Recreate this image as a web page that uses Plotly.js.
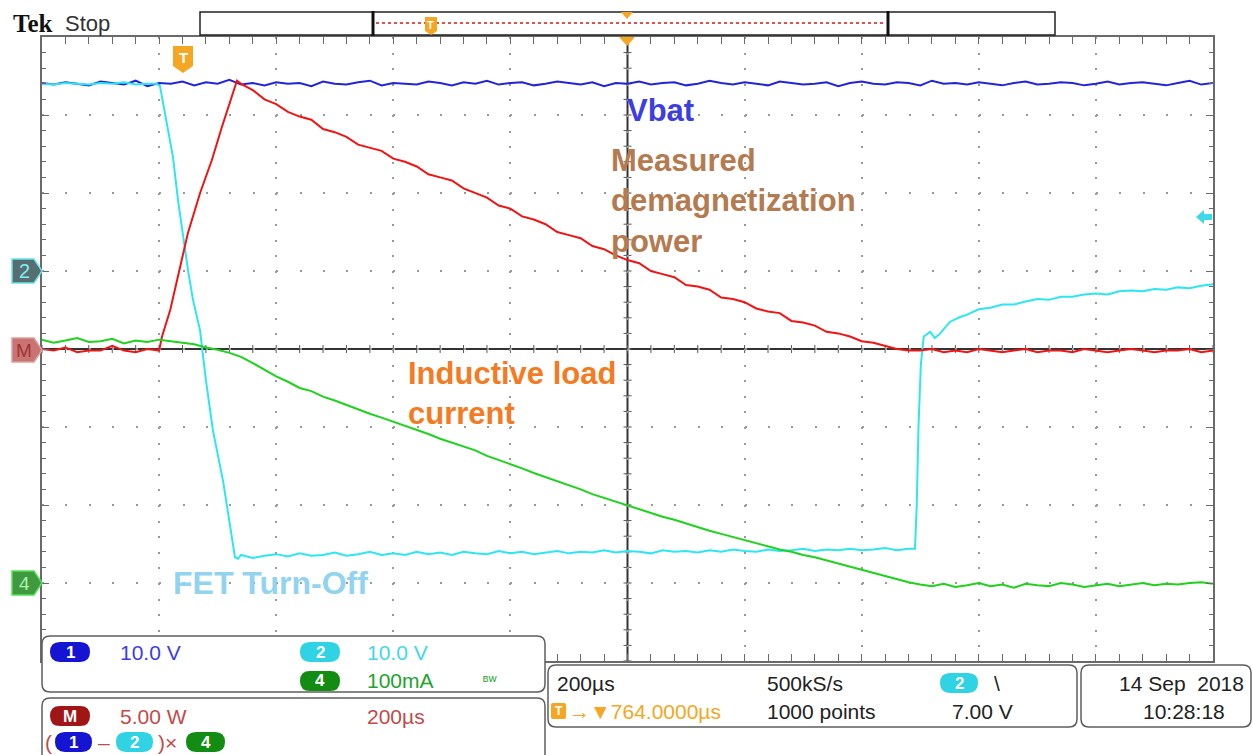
<!DOCTYPE html>
<html>
<head>
<meta charset="utf-8">
<script src="https://cdn.plot.ly/plotly-3.0.1.min.js"></script>
<style>html,body{margin:0;padding:0;background:#fff;}#plot{width:1253px;height:755px;}</style>
</head>
<body>
<div id="plot"></div>
<script>
// ---------------- DATA (time in µs relative to trigger) ----------------
const t20 = [-236,-216,-196,-176,-156,-136,-116,-96,-76,-56,
  -36,-16,4,24,44,64,84,104,124,144,
  164,184,204,224,244,264,284,304,324,344,
  364,384,404,424,444,464,484,504,524,544,
  564,584,604,624,644,664,684,704,724,744,
  764,784,804,824,844,864,884,904,924,944,
  964,984,1004,1024,1044,1064,1084,1104,1124,1144,
  1164,1184,1204,1224,1244,1264,1284,1304,1324,1344,
  1364,1384,1404,1424,1444,1464,1484,1504,1524,1544,
  1564,1584,1604,1624,1644,1664,1684,1704,1724,1744,
  1764];

// Ch1 (Vbat), volts
const ch1V = [24.1,23.9,24.2,24.0,23.8,24.3,24.1,23.9,24.4,23.7,
  24.1,24.0,24.3,23.8,24.2,24.0,24.5,23.9,24.1,23.8,
  24.2,24.0,24.1,23.7,24.3,24.0,23.9,24.2,24.4,23.8,
  24.1,24.0,23.9,24.3,24.1,23.8,24.2,24.0,24.4,23.9,
  24.1,24.2,23.8,24.0,24.3,24.1,23.9,24.2,23.7,24.1,
  24.0,24.3,23.9,24.1,24.2,23.8,24.0,24.4,24.1,23.9,
  24.2,24.0,23.8,24.3,24.1,23.9,24.0,24.2,23.7,24.1,
  24.3,24.0,23.9,24.2,24.1,23.8,24.4,24.0,24.1,23.9,
  24.2,24.0,23.8,24.1,24.3,23.9,24.0,24.2,24.1,23.8,
  24.0,24.3,23.9,24.1,24.2,24.0,23.8,24.1,24.4,23.9,
  24.1];

// Ch2 (FET), volts
const ch2T = [-236,-216,-196,-176,-156,-136,-116,-96,-76,-56,-40,-34.5,-29.3,-20.8,-12.3,-3.7,4.8,13.4,21.9,33.9,44.1,56.1,73.2,85.1,93.6,98.8,
  104,124,144,164,184,204,224,244,264,284,
  304,324,344,364,384,404,424,444,464,484,
  504,524,544,564,584,604,624,644,664,684,
  704,724,744,764,784,804,824,844,864,884,
  904,924,944,964,984,1004,1024,1044,1064,1084,
  1104,1124,1144,1164,1184,1204,1224,1244,
  1255,1258,1261,1265,1270,1281,1289,1298,1315,1332,
  1344,1364,1384,1404,1424,1444,1464,1484,1504,1524,1544,
  1564,1584,1604,1624,1644,1664,1684,1704,1724,1744,1764];
const ch2V = [24.0,23.9,24.1,24.0,23.9,24.1,24.0,24.2,23.9,24.0,24.0,23.7,21.5,18.3,14.6,9.1,4.4,0.1,-3.7,-7.6,-14.1,-20.5,-26.9,-32.3,-36.7,-36.9,
  -36.4,-36.8,-36.5,-36.3,-36.6,-36.2,-36.5,-36.4,-36.1,-36.5,
  -36.3,-36.0,-36.4,-36.2,-36.4,-36.0,-36.3,-36.1,-36.4,-36.0,
  -36.2,-36.3,-35.9,-36.2,-36.0,-36.3,-36.1,-35.9,-36.2,-36.0,
  -36.1,-35.8,-36.1,-35.9,-36.0,-36.2,-35.8,-36.0,-35.9,-36.1,
  -35.8,-36.0,-35.7,-35.9,-36.0,-35.7,-35.9,-35.8,-35.6,-35.9,
  -35.7,-35.8,-35.6,-35.8,-35.7,-35.5,-35.8,-35.6,
  -35.6,-30,-20,-12,-8.4,-7.8,-8.6,-8.0,-6.5,-5.9,
  -5.6,-4.9,-4.7,-4.3,-4.3,-3.9,-3.6,-3.7,-3.3,-3.3,-3.0,
  -2.9,-3.0,-2.6,-2.5,-2.6,-2.3,-2.4,-2.1,-2.2,-1.9,-1.7];

// Math (1-2)x4, watts
const mathT = [-236,-216,-196,-176,-156,-136,-116,-96,-76,-56,-36,
  -31,-17,0,13,34,54,71,85,97,
  104,124,144,164,184,204,224,244,264,284,
  304,324,344,364,384,404,424,444,464,484,
  504,524,544,564,584,604,624,644,664,684,
  704,724,744,764,784,804,824,844,864,884,
  904,924,944,964,984,1004,1024,1044,1064,1084,
  1104,1124,1144,1164,1184,1204,1224,1244,
  1264,1284,1304,1324,1344,1364,1384,1404,1424,1444,
  1464,1484,1504,1524,1544,1564,1584,1604,1624,1644,
  1664,1684,1704,1724,1744,1764];
const mathW = [0.0,-0.1,0.1,-0.2,-0.1,-0.1,0.2,-0.1,-0.2,0.0,-0.1,
  0.8,2.5,5.3,7.4,10.0,12.1,14.2,15.8,17.2,
  17.0,16.6,16.0,15.7,15.2,14.9,14.7,14.1,13.9,13.6,
  13.1,12.9,12.7,12.2,12.0,11.7,11.2,11.0,10.8,10.3,
  10.0,9.7,9.2,9.0,8.5,8.3,8.0,7.5,7.3,7.1,
  6.6,6.4,6.0,5.7,5.5,5.0,4.8,4.6,4.1,4.0,
  3.8,3.3,3.2,3.0,2.6,2.4,2.3,1.8,1.7,1.5,
  1.1,1.0,0.8,0.5,0.4,0.2,0.0,-0.1,
  -0.1,0.0,-0.2,-0.1,-0.2,0.0,-0.1,-0.2,-0.1,0.0,
  -0.2,-0.1,-0.1,-0.2,0.0,-0.1,-0.2,-0.1,0.0,-0.1,
  -0.2,-0.1,-0.1,0.0,-0.2,-0.1];

// Ch4 (inductive load current), mA
const ch4mA = [312,308,311,314,309,310,313,307,311,309,312,310,308,
  306,302,299,295,290,282,273,265,258,250,
  246,239,234,228,223,217,212,207,201,196,
  191,185,180,174,170,163,158,153,147,141,
  136,131,125,120,114,109,104,100,95,90,
  85,81,76,72,67,63,59,55,51,47,
  43,40,36,33,29,25,21,17,13,9,
  5,1,
  -2,-4,-1,-5,-3,0,-4,-2,-6,-1,-3,-4,0,-2,-5,-3,-1,-4,-2,0,-3,-1,-2,0,1,-1];

// ---------------- GEOMETRY HELPERS (pixel -> paper) ----------------
const L=42, TOP=37, W=1171, H=624;
const PX = x => (x-L)/W;
const PY = y => (TOP+H-y)/H;
const P = (x,y) => PX(x).toFixed(5)+','+PY(y).toFixed(5);
function poly(pts){ return 'M'+pts.map(p=>P(p[0],p[1])).join('L')+'Z'; }
function rrect(x0,y0,x1,y1,r){
  return 'M'+P(x0+r,y0)+'L'+P(x1-r,y0)+'Q'+P(x1,y0)+' '+P(x1,y0+r)+
    'L'+P(x1,y1-r)+'Q'+P(x1,y1)+' '+P(x1-r,y1)+
    'L'+P(x0+r,y1)+'Q'+P(x0,y1)+' '+P(x0,y1-r)+
    'L'+P(x0,y0+r)+'Q'+P(x0,y0)+' '+P(x0+r,y0)+'Z';
}
const shapes=[], ann=[];
function pshape(path, fill, lc, lw, layer){ shapes.push({type:'path',xref:'paper',yref:'paper',path:path,fillcolor:fill||'rgba(0,0,0,0)',line:{color:lc||'rgba(0,0,0,0)',width:lw||0},layer:layer||'above'}); }
function txt(x,y,text,color,size,opt){
  opt=opt||{};
  ann.push({xref:'paper',yref:'paper',x:PX(x),y:PY(y),text:text,showarrow:false,
    xanchor:opt.xa||'left',yanchor:opt.ya||'middle',align:opt.align||'left',
    font:{family:opt.family||'Liberation Sans, Arial, sans-serif',size:size,color:color}});
}
function pill(x0,x1,yc,color,label){
  pshape(rrect(x0,yc-10,x1,yc+10,10),color);
  txt((x0+x1)/2,yc,'<b>'+label+'</b>','#ffffff',17,{xa:'center'});
}

// center crosshair + ticks
shapes.push({type:'line',xref:'paper',yref:'paper',x0:0.5,x1:0.5,y0:0,y1:1,line:{color:'#333',width:2},layer:'between'});
shapes.push({type:'line',xref:'paper',yref:'paper',x0:0,x1:1,y0:0.5,y1:0.5,line:{color:'#333',width:2},layer:'between'});
let tp='';
for(let i=0;i<=50;i++){ const x=i/50; tp+='M'+x.toFixed(5)+','+(0.5-4/H).toFixed(5)+'L'+x.toFixed(5)+','+(0.5+4/H).toFixed(5); }
for(let j=0;j<=40;j++){ const y=j/40; tp+='M'+(0.5-4/W).toFixed(5)+','+y.toFixed(5)+'L'+(0.5+4/W).toFixed(5)+','+y.toFixed(5); }
shapes.push({type:'path',xref:'paper',yref:'paper',path:tp,line:{color:'#555',width:1},layer:'between'});

// top record bar
shapes.push({type:'rect',xref:'paper',yref:'paper',x0:PX(200),x1:PX(1055),y0:PY(35),y1:PY(12),line:{color:'#222',width:1.5},layer:'above'});
shapes.push({type:'line',xref:'paper',yref:'paper',x0:PX(376),x1:PX(886),y0:PY(23),y1:PY(23),line:{color:'#e05050',width:2,dash:'dot'},layer:'above'});
shapes.push({type:'line',xref:'paper',yref:'paper',x0:PX(373),x1:PX(373),y0:PY(36),y1:PY(11),line:{color:'#111',width:3},layer:'above'});
shapes.push({type:'line',xref:'paper',yref:'paper',x0:PX(888),x1:PX(888),y0:PY(36),y1:PY(11),line:{color:'#111',width:3},layer:'above'});
pshape(poly([[425,17],[437,17],[437,31],[431,35],[425,31]]),'#f5a623');
txt(431,25,'<b>T</b>','#fff',11,{xa:'center'});
pshape(poly([[621,12],[633,12],[627,19]]),'#f5a623');
pshape(poly([[619,37],[635,37],[627,46]]),'#f5a623');
// trigger T marker on graticule
pshape(poly([[173,46],[193,46],[193,66],[183,73],[173,66]]),'#f5a623');
txt(183,57,'<b>T</b>','#fff',15,{xa:'center'});
// trigger level arrow (right)
pshape(poly([[1196,217],[1204,210],[1204,214],[1212,214],[1212,220],[1204,220],[1204,224]]),'#3fd8e8');

// left channel markers
pshape(poly([[12,259],[34,259],[42,271],[34,283],[12,283]]),'#566e70','#66e4ec',1.5);
txt(24,271,'2','#7eeef4',20,{xa:'center'});
pshape(poly([[12,338],[34,338],[42,350],[34,362],[12,362]]),'#c97373','#dba0a0',1.5);
txt(24,350,'M','#9e3434',19,{xa:'center'});
pshape(poly([[12,571],[34,571],[42,583],[34,595],[12,595]]),'#3f9a3f','#55e055',1.5);
txt(24,583,'4','#b0f0b0',19,{xa:'center'});

// bottom panels
pshape(rrect(42,636,545,692,8),'#ffffff','#5e5e5e',1.5);
pshape(rrect(42,698,545,765,8),'#ffffff','#5e5e5e',1.5);
pshape(rrect(548,665,1077,727,8),'#ffffff','#5e5e5e',1.5);
pshape(rrect(1081,665,1251,727,8),'#ffffff','#5e5e5e',1.5);

const F = 21;
pill(50,90,652,'#1414d2','1'); txt(118,652,'10.0 V','#3c3ce6',F);
pill(300,340,652,'#2fd3e3','2'); txt(365,652,'10.0 V','#3fd8e8',F);
pill(300,340,681,'#128c12','4'); txt(365,681,'100mA','#22a32e',F);
txt(481,681,'ᴮᵂ','#22a32e',13);
pill(50,90,716,'#a01616','M'); txt(118,716,'5.00 W','#c24a4a',F); txt(365,716,'200µs','#c24a4a',F);
txt(43,742,'(','#c24a4a',F);
pill(55,92,742,'#1414d2','1');
txt(96,742,'–','#c24a4a',F);
pill(116,153,742,'#2fd3e3','2');
txt(156,742,')×','#c24a4a',F);
pill(186,225,742,'#128c12','4');

txt(555,683,'200µs','#222',F);
pshape(rrect(551,703,566,719,2),'#f5a623');
txt(558.5,711,'<b>T</b>','#fff',12,{xa:'center'});
txt(567,711,'→▼764.0000µs','#f5a623',F);
txt(765,683,'500kS/s','#222',F);
txt(765,711,'1000 points','#222',F);
pill(940,978,683,'#2fd3e3','2');
txt(992,683,'\\','#222',F);
txt(950,711,'7.00 V','#222',F);
txt(1117,683,'14 Sep  2018','#222',F);
txt(1141,711,'10:28:18','#222',F);

// header
txt(11,23,'<b>Tek</b>','#111',25,{family:'Liberation Serif, serif'});
txt(63,23,'Stop','#333',22);

// chart labels
txt(625,110,'<b>Vbat</b>','#3d3de0',31);
txt(609,201,'<b>Measured<br>demagnetization<br>power</b>','#b47a50',31);
txt(406,393,'<b>Inductive load<br>current</b>','#f47b22',31);
txt(171,583,'<b>FET Turn-Off</b>','#92d4ef',32);

// ---------------- TRACES ----------------
const traces = [
  {x:t20, y:ch1V, yaxis:'y', type:'scatter', mode:'lines', line:{color:'#2323d8',width:2}, name:'Ch1'},
  {x:t20, y:ch4mA, yaxis:'y3', type:'scatter', mode:'lines', line:{color:'#1ed21e',width:2}, name:'Ch4'},
  {x:mathT, y:mathW, yaxis:'y2', type:'scatter', mode:'lines', line:{color:'#f01414',width:2}, name:'Math'},
  {x:ch2T, y:ch2V, yaxis:'y', type:'scatter', mode:'lines', line:{color:'#2ee6f2',width:2}, name:'Ch2'}
];

const axCommon = {showticklabels:false, zeroline:false, showline:true, linecolor:'#6a6a6a', linewidth:2,
  mirror:'allticks', ticks:'inside', ticklen:7, tickcolor:'#6a6a6a', tickwidth:1,
  showgrid:true, gridcolor:'#9a9a9a', gridwidth:2, fixedrange:true};
const layout = {
  width:1253, height:755, margin:{l:42,r:40,t:37,b:94,pad:0},
  paper_bgcolor:'#ffffff', plot_bgcolor:'#ffffff', showlegend:false,
  xaxis:Object.assign({}, axCommon, {range:[-236,1764], tick0:-236, dtick:200, griddash:'2px,13.6px',
    minor:{tick0:-236, dtick:40, ticks:'inside', ticklen:4, tickcolor:'#6a6a6a', showgrid:false}}),
  yaxis:Object.assign({}, axCommon, {range:[-50,30], tick0:-50, dtick:10, griddash:'2px,21.42px',
    minor:{tick0:-50, dtick:2, ticks:'inside', ticklen:4, tickcolor:'#6a6a6a', showgrid:false}}),
  yaxis2:{range:[-20,20], overlaying:'y', visible:false, fixedrange:true},
  yaxis3:{range:[-100,700], overlaying:'y', visible:false, fixedrange:true},
  shapes:shapes, annotations:ann
};
Plotly.newPlot('plot', traces, layout, {displayModeBar:false, staticPlot:true});
</script>
</body>
</html>
